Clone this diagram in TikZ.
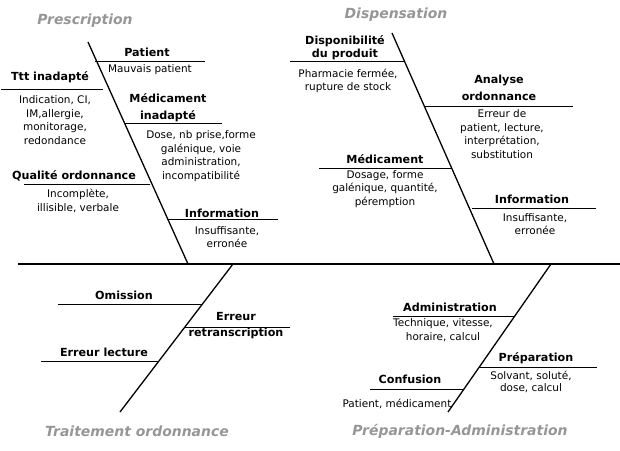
\documentclass[tikz,border=0pt]{standalone}
\usepackage{fontspec}
\setmainfont{DejaVu Sans}
\definecolor{titlegray}{RGB}{150,150,150}
\tikzset{
	spine/.style={line width=1.8bp},
	bone/.style={line width=1.3bp},
	rib/.style={line width=0.9bp},
	cause/.style={font=\bfseries\fontsize{11.2}{15}\selectfont, inner sep=0pt, align=center},
	detail/.style={font=\fontsize{10.5}{13.5}\selectfont, inner sep=0pt, align=center},
	branch/.style={font=\bfseries\itshape\fontsize{14}{15}\selectfont, text=titlegray, inner sep=0pt},
}

\begin{document}
\begin{tikzpicture}[x=1bp,y=-1bp]
			\useasboundingbox (0,0) rectangle (620,451);

			% branch titles
			\node[branch] (presc) at (85,21) {Prescription};
			\node[branch] (dispe) at (396,15) {Dispensation};
			\node[branch] (trait) at (137,431) {Traitement ordonnance};
			\node[branch] (prepa) at (460,431) {Préparation-Administration};

			% Prescription
			\node[cause] (patient) at (147,52) {Patient};
			\node[detail] (patientd) at (150,70) {Mauvais patient};
			\node[cause] (ttt) at (50,77) {Ttt inadapté};
			\node[detail] (tttd) at (55,120) {Indication, CI,\\IM,allergie,\\monitorage,\\redondance};
			\node[cause, font=\bfseries\fontsize{11.2}{17}\selectfont] (medic) at (168,108) {Médicament\\inadapté};
			\node[detail] (medicd) at (201,156) {Dose, nb prise,forme\\galénique, voie\\administration,\\incompatibilité};
			\node[cause] (qualite) at (74,176) {Qualité ordonnance};
			\node[detail] (qualited) at (78,201) {Incomplète,\\illisible, verbale};
			\node[cause] (info) at (222,213) {Information};
			\node[detail] (infod) at (227,237) {Insuffisante,\\erronée};

			% Dispensation
			\node[cause, font=\bfseries\fontsize{11.2}{13}\selectfont] (dispo) at (345,48) {Disponibilité\\du produit};
			\node[detail] (dispod) at (348,81) {Pharmacie fermée,\\rupture de stock};
			\node[cause, font=\bfseries\fontsize{11.2}{17}\selectfont] (analyse) at (499,88) {Analyse\\ordonnance};
			\node[detail] (analysed) at (502,134) {Erreur de\\patient, lecture,\\interprétation,\\substitution};
			\node[cause] (medic2) at (385,159) {Médicament};
			\node[detail] (medic2d) at (385,189) {Dosage, forme\\galénique, quantité,\\péremption};
			\node[cause] (info2) at (532,199) {Information};
			\node[detail] (info2d) at (535,224) {Insuffisante,\\erronée};

			% Traitement ordonnance
			\node[cause] (omission) at (124,295) {Omission};
			\node[cause, font=\bfseries\fontsize{11.2}{16}\selectfont] (retrans) at (236,326) {Erreur\\retranscription};
			\node[cause] (lecture) at (104,352) {Erreur lecture};

			% Preparation-Administration
			\node[cause] (admin) at (450,307) {Administration};
			\node[detail] (admind) at (443,330) {Technique, vitesse,\\horaire, calcul};
			\node[cause] (prep) at (536,358) {Préparation};
			\node[detail, font=\fontsize{10.5}{12}\selectfont] (prepd) at (531,382) {Solvant, soluté,\\dose, calcul};
			\node[cause] (confus) at (410,379) {Confusion};
			\node[detail] (confusd) at (397,404) {Patient, médicament};

			% spine and bones
			\coordinate (spineL) at (18,264);
			\coordinate (spineR) at (620,264);
			\coordinate (prescT) at (88,42);
			\coordinate (prescB) at (188,264);
			\coordinate (dispeT) at (392,33);
			\coordinate (dispeB) at (494,264);
			\coordinate (traitT) at (233,264);
			\coordinate (traitB) at (120,412);
			\coordinate (prepaT) at (551,264);
			\coordinate (prepaB) at (448,412);

			% ribs
			\coordinate (patient1) at (95,61);     \coordinate (patient2) at (205,61);
			\coordinate (ttt1) at (1,89);          \coordinate (ttt2) at (103,89);
			\coordinate (medic1) at (124,123);     \coordinate (medic2) at (222,123);
			\coordinate (qualite1) at (24,184);    \coordinate (qualite2) at (150,184);
			\coordinate (info1) at (167,219);      \coordinate (info2) at (278,219);
			\coordinate (dispo1) at (290,61);      \coordinate (dispo2) at (405,61);
			\coordinate (analyse1) at (425,106);   \coordinate (analyse2) at (573,106);
			\coordinate (medicb1) at (319,168);    \coordinate (medicb2) at (452,168);
			\coordinate (infob1) at (472,208);     \coordinate (infob2) at (596,208);
			\coordinate (omission1) at (58,304);   \coordinate (omission2) at (202,304);
			\coordinate (retrans1) at (185,327);   \coordinate (retrans2) at (290,327);
			\coordinate (lecture1) at (41,361);    \coordinate (lecture2) at (159,361);
			\coordinate (admin1) at (393,316);     \coordinate (admin2) at (515,316);
			\coordinate (prep1) at (480,367);      \coordinate (prep2) at (597,367);
			\coordinate (confus1) at (370,389);    \coordinate (confus2) at (464,389);

			\draw[spine] (spineL) -- (spineR);
			\path[bone, draw]
			  (prescT) -- (prescB)
			  (dispeT) -- (dispeB)
			  (traitT) -- (traitB)
			  (prepaT) -- (prepaB);
			\path[rib, draw]
			  (patient1) -- (patient2)
			  (ttt1) -- (ttt2)
			  (medic1) -- (medic2)
			  (qualite1) -- (qualite2)
			  (info1) -- (info2)
			  (dispo1) -- (dispo2)
			  (analyse1) -- (analyse2)
			  (medicb1) -- (medicb2)
			  (infob1) -- (infob2)
			  (omission1) -- (omission2)
			  (retrans1) -- (retrans2)
			  (lecture1) -- (lecture2)
			  (admin1) -- (admin2)
			  (prep1) -- (prep2)
			  (confus1) -- (confus2);

		  \end{tikzpicture}
\end{document}
